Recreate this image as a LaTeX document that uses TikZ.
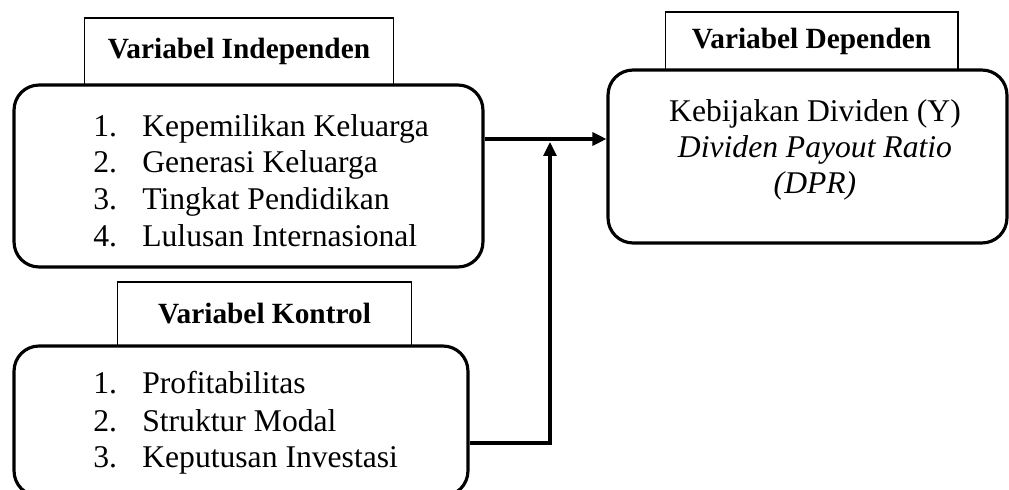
\documentclass[tikz,border=0pt]{standalone}
\usepackage{fontspec}
\setmainfont{Liberation Serif}
\usepackage{tikz}
\usetikzlibrary{arrows.meta,positioning}

\newcommand{\numlbl}[1]{\makebox[0.98cm][l]{#1}}

\begin{document}
\begin{tikzpicture}[
    x=0.02cm, y=-0.02cm,
    varbox/.style={draw, rectangle, rounded corners=0.5cm, line width=1.8pt,
                   fill=white, inner sep=0pt},
    tagbox/.style={draw, rectangle, line width=0.6pt, fill=white,
                   font=\fontsize{16.7}{20}\selectfont\bfseries, align=center, inner sep=0pt},
    itemtxt/.style={anchor=base west, inner sep=0pt, font=\fontsize{18}{20.5}\selectfont},
    msg/.style={-{Triangle[length=0.28cm,width=0.26cm]}, line width=1.8pt}
]
\useasboundingbox (0,0) rectangle (1009,490);

% --- label boxes ---
\node[tagbox, minimum width=6.2cm, minimum height=1.34cm] (indtag) at (239,51.5) {Variabel Independen};
\node[tagbox, minimum width=5.9cm, minimum height=1.28cm] (ctrltag) at (264.5,314) {Variabel Kontrol};
\node[tagbox, minimum width=5.86cm, minimum height=1.16cm] (deptag) at (811.5,41) {Variabel Dependen};

% --- variable boxes ---
\node[varbox, minimum width=9.38cm, minimum height=3.64cm] (indbox) at (248.5,176) {};
\node[varbox, minimum width=9.08cm, minimum height=3.0cm] (ctrlbox) at (241,421) {};
\node[varbox, minimum width=7.98cm, minimum height=3.46cm] (depbox) at (807.5,156.5) {};

% --- box contents ---
\node[itemtxt] (ind1) at (93,136) {\numlbl{1.}Kepemilikan Keluarga};
\node[itemtxt] (ind2) at (93,173) {\numlbl{2.}Generasi Keluarga};
\node[itemtxt] (ind3) at (93,209) {\numlbl{3.}Tingkat Pendidikan};
\node[itemtxt] (ind4) at (93,246) {\numlbl{4.}Lulusan Internasional};

\node[itemtxt] (ctrl1) at (93,393) {\numlbl{1.}Profitabilitas};
\node[itemtxt] (ctrl2) at (93,431) {\numlbl{2.}Struktur Modal};
\node[itemtxt] (ctrl3) at (93,467) {\numlbl{3.}Keputusan Investasi};

\node[anchor=north, inner sep=0pt, align=center, font=\fontsize{18}{20.5}\selectfont]
    (deptxt) at (815,99) {Kebijakan Dividen (Y)\\\textit{Dividen Payout Ratio}\\\textit{(DPR)}};

% --- connectors ---
\coordinate (meet) at (550,139);
\coordinate (tipup) at (550,142);
\coordinate (bend) at (550,443);

\draw[msg] (indbox.east |- meet) -- (depbox.west |- meet);
\draw[msg] (ctrlbox.east |- bend) -- (bend) -- (tipup);

\end{tikzpicture}
\end{document}
